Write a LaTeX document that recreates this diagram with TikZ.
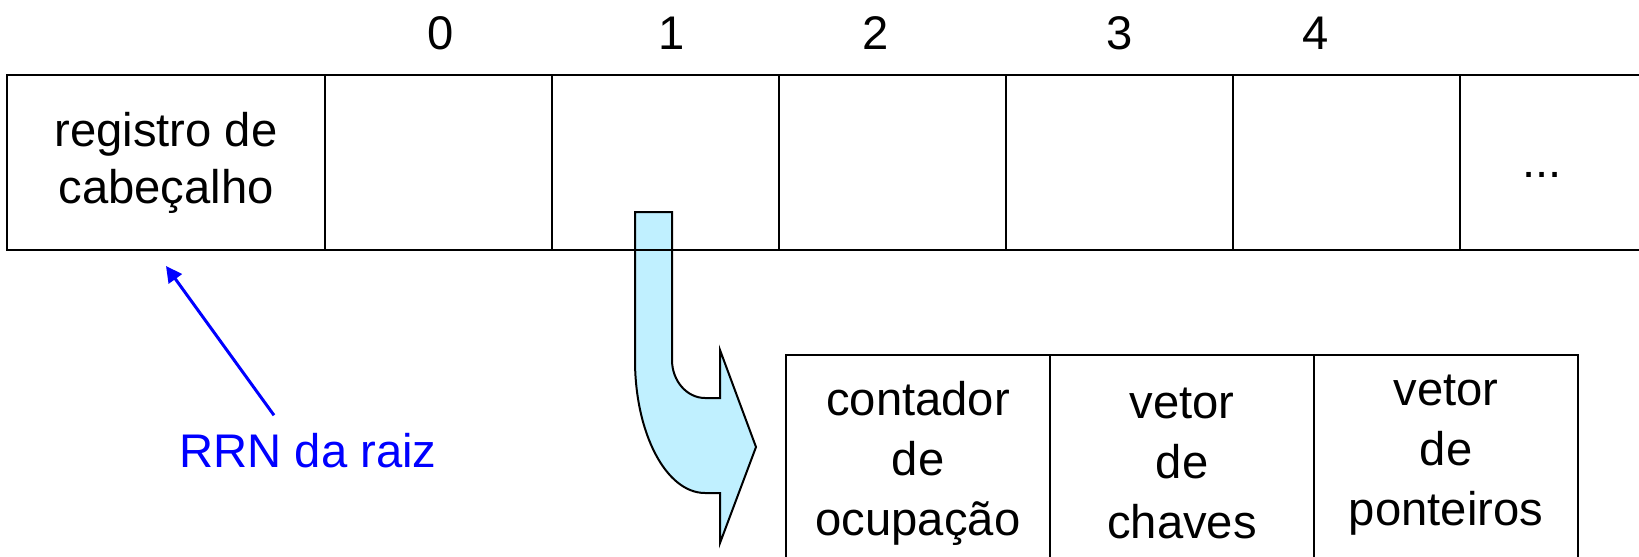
\documentclass[tikz,border=0pt]{standalone}
\usepackage{fontspec}
\setmainfont{Liberation Sans}
\usepackage{tikz}
\usetikzlibrary{positioning, arrows.meta}
\definecolor{arrowfill}{RGB}{192,240,255}
\tikzstyle{cell} = [rectangle, draw=black, line width=1pt, outer sep=0pt, inner sep=0pt, minimum width=113.5pt, minimum height=87.5pt, align=center]
\tikzstyle{headcell} = [cell, minimum width=159pt]
\tikzstyle{field} = [rectangle, draw=black, line width=1pt, outer sep=0pt, inner sep=0pt, minimum width=132pt, minimum height=108pt, align=center]
\tikzstyle{index} = [inner sep=0pt]
\tikzstyle{pointer} = [line width=1.5pt, draw=blue, -{Triangle[length=8pt,width=8pt]}]

\begin{document}
\begin{tikzpicture}[x=0.5pt, y=-0.5pt, font=\fontsize{23.6}{30}\selectfont]
        \clip (0,0) rectangle (1639,557);

        % Curved arrow
        \draw [fill=arrowfill, line width=1pt] (635,212) -- (672,212) -- (672,360)
            .. controls (672,381) and (687,398) .. (705,398) -- (720,398) -- (720,350)
            -- (756,447) -- (720,543) -- (720,493) -- (705,493)
            .. controls (666,493) and (635,433) .. (635,360) -- cycle;

        % Header record and nodes of the file
        \node (head) [headcell] at (166,162.5) {registro de\\[-1.5pt]cabeçalho};
        \node (c0) [cell, right=0pt of head] {};
        \node (c1) [cell, right=0pt of c0] {};
        \node (c2) [cell, right=0pt of c1] {};
        \node (c3) [cell, right=0pt of c2] {};
        \node (c4) [cell, right=0pt of c3] {};
        \node (c5) [cell, right=0pt of c4, minimum width=150pt] {};
        \node (dots) [index, right=31pt of c4.east, yshift=-6pt] {...};

        % Indices
        \foreach \i/\x in {0/441, 1/672, 2/876, 3/1120, 4/1316}
            \node (idx\i) [index] at (\x,33) {\i};

        % Node layout
        \node (count) [field] at (918,463) {contador\\de\\ocupação};
        \node (keys) [field, right=0pt of count] {vetor\\de\\chaves};
        \node (ptrs) [field, right=0pt of keys, text depth=13pt] {vetor\\de\\ponteiros};

        % Root RRN
        \node (rrn) [index, text=blue] at (308,451) {RRN da raiz};
        \draw [pointer] ([xshift=-17pt, yshift=9pt]rrn.north) -- ([yshift=-8pt]head.south);
\end{tikzpicture}
\end{document}
